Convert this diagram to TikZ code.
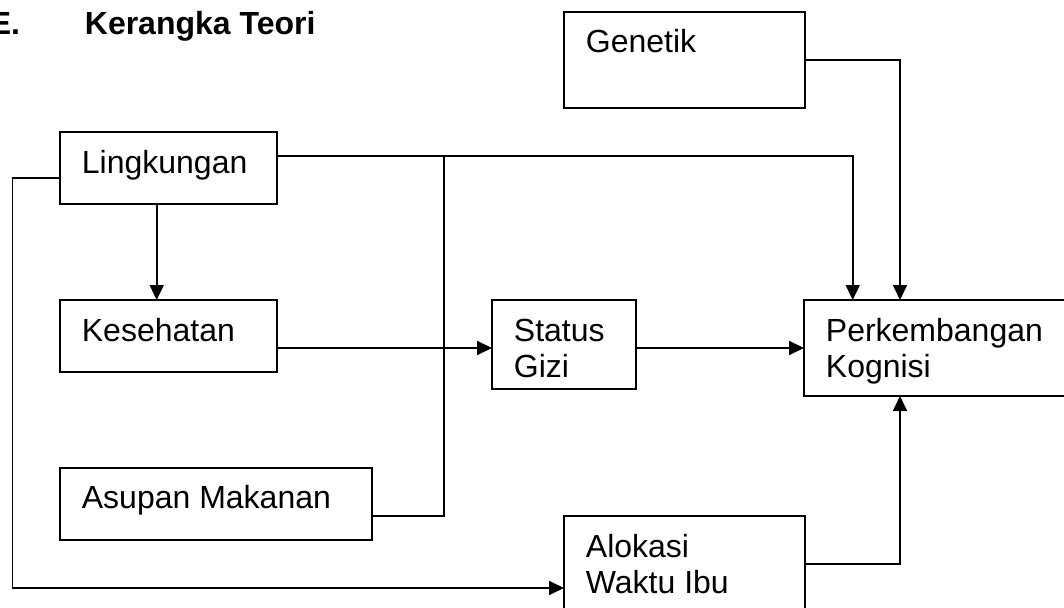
\documentclass[tikz,border=0pt]{standalone}
\usepackage{fontspec}
\setmainfont{Liberation Sans}
\usetikzlibrary{arrows.meta}
\begin{document}
\begin{tikzpicture}[x=1pt,y=-1pt,
  line width=1.8pt,
  box/.style={draw, rectangle, inner sep=0pt, outer sep=0pt, anchor=north west},
  lbl/.style={anchor=base west, inner sep=0pt, font=\fontsize{32}{36}\selectfont},
  head/.style={lbl, font=\fontsize{32}{36}\selectfont\bfseries},
  flow/.style={-{Triangle[length=15pt,width=14pt]}}]
\useasboundingbox (0,0) rectangle (1064,607);
\clip (0,0) rectangle (1064,607);

% heading
\node[head] (secE) at (-11,35) {E.};
\node[head] (secT) at (84,35) {Kerangka Teori};

% boxes
\node[box, minimum width=217pt, minimum height=72pt] (ling) at (60,132) {};
\node[box, minimum width=241pt, minimum height=96pt] (gen)  at (564,12) {};
\node[box, minimum width=217pt, minimum height=72pt] (kes)  at (60,300) {};
\node[box, minimum width=312pt, minimum height=72pt] (asu)  at (60,468) {};
\node[box, minimum width=144pt, minimum height=89pt] (stat) at (492,300) {};
\node[box, minimum width=280pt, minimum height=96pt] (perk) at (804,300) {};
\node[box, minimum width=241pt, minimum height=110pt] (alok) at (564,516) {};

% labels
\node[lbl] (lingT) at ([shift={(21,41)}]ling.north west) {Lingkungan};
\node[lbl] (genT)  at ([shift={(21,41)}]gen.north west) {Genetik};
\node[lbl] (kesT)  at ([shift={(21,41)}]kes.north west) {Kesehatan};
\node[lbl] (asuT)  at ([shift={(21,40)}]asu.north west) {Asupan Makanan};
\node[lbl] (statT) at ([shift={(21,41)}]stat.north west)
  {\begin{tabular}[t]{@{}l@{}}Status\\Gizi\end{tabular}};
\node[lbl] (perkT) at ([shift={(21,41)}]perk.north west)
  {\begin{tabular}[t]{@{}l@{}}Perkembangan\\Kognisi\end{tabular}};
\node[lbl] (alokT) at ([shift={(21,41)}]alok.north west)
  {\begin{tabular}[t]{@{}l@{}}Alokasi\\Waktu Ibu\end{tabular}};

% entry points on the outcome box
\coordinate (perkA) at ([xshift=48.7pt]perk.north west);
\coordinate (perkB) at ([xshift=96pt]perk.north west);
\coordinate (perkC) at ([xshift=96pt]perk.south west);

% connectors
\draw[flow] ([yshift=12pt]ling.east) coordinate (lingE) -| (perkA);
\draw[flow] ([yshift=-10pt]ling.west) -- ++(-47.5,0) |- ([yshift=-72pt]alok.north west);
\draw[flow] ([xshift=-11.8pt]ling.south) -- ([xshift=-11.8pt]kes.north);
\draw[flow] (gen.east) -| (perkB);
\draw[flow] ([yshift=-12pt]kes.east) coordinate (kesE) -- (kesE -| stat.west);
\draw[flow] (stat.east |- perk.west) -- (perk.west);
\draw ([yshift=-12pt]asu.east) -- ++(72,0) coordinate (jb) -- (jb |- lingE);
\draw[flow] ([yshift=-48pt]alok.north east) -| (perkC);
\end{tikzpicture}
\end{document}
